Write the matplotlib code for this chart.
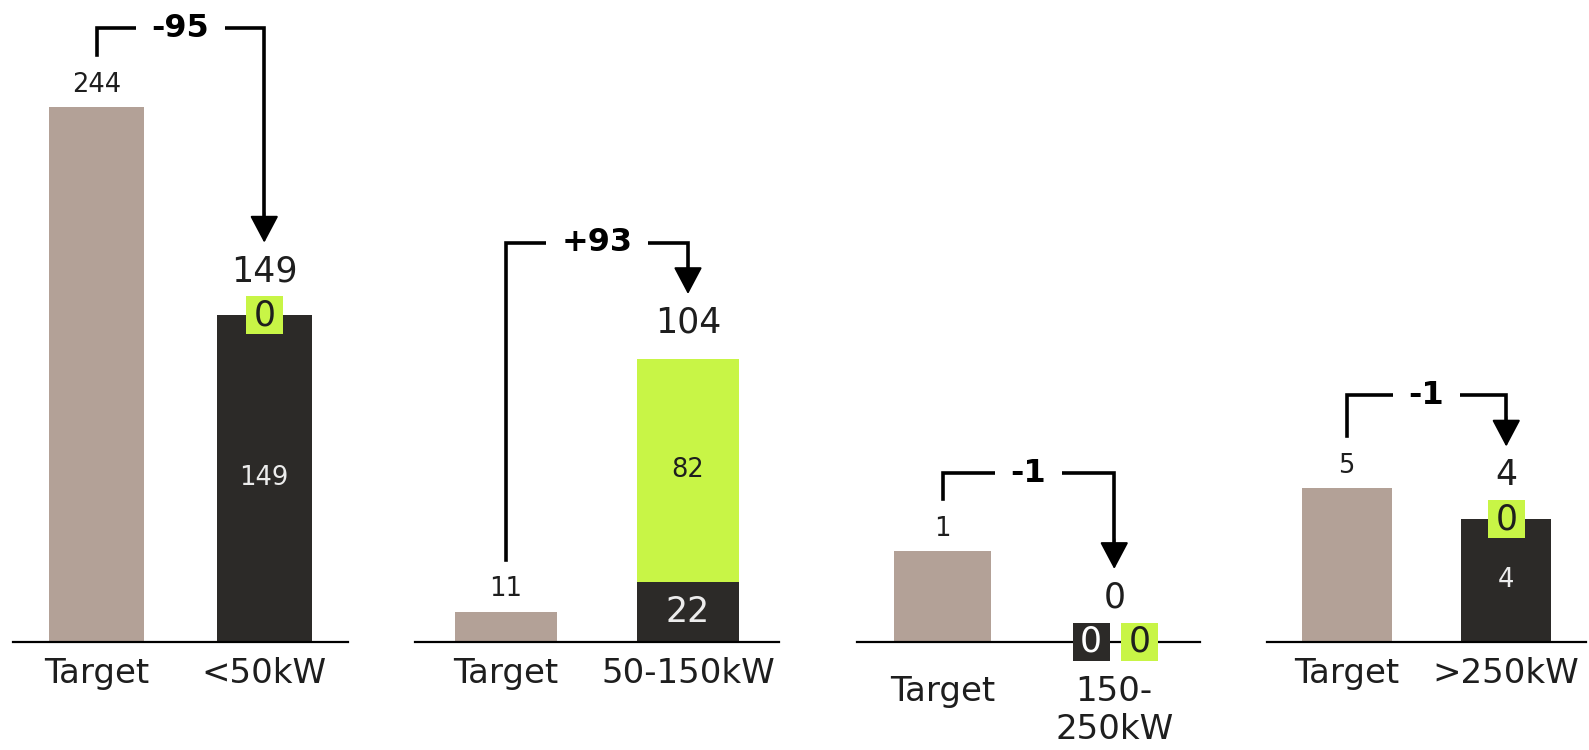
import numpy as np
import matplotlib.pyplot as plt
from matplotlib.patches import Rectangle
from matplotlib.transforms import ScaledTranslation

plt.rcParams['font.family'] = ['DejaVu Sans']

# data
targets = [244, 11, 1, 5]
actual_dark = [149, 22, 0, 4]
actual_green = [0, 82, 0, 0]
totals = [149, 104, 0, 4]
deltas = ['-95', '+93', '-1', '-1']
categories = ['<50kW', '50-150kW', '150-\n250kW', '>250kW']

# layout (pixels on a 1589x750 canvas)
panel_left = [13, 415, 857, 1267]
panel_width = [335, 364, 343, 319]
panel_ymax = [292.9, 235.8, 7.10, 20.96]
bracket_rise = [79, 116, 78, 93]   # px above the taller bar
label_pad = [11, 11, 24, 11]
dark_fs = [18.5, 25, 25, 18.5]
green_fs = [25, 18.5, 25, 25]

TAUPE = '#b3a197'
DARK = '#2c2a28'
GREEN = '#c8f546'
INK = '#1e1e1e'
W, H = 1589, 750
BASE = 641.5
BW = 0.565

fig = plt.figure(figsize=(W / 100, H / 100), dpi=100)


def zero_box(ax, x, y, color, txtcolor):
    tr = fig.dpi_scale_trans + ScaledTranslation(x, y, ax.transData)
    ax.add_patch(Rectangle((-0.185, -0.19), 0.37, 0.38, transform=tr,
                           facecolor=color, edgecolor='none', zorder=4, clip_on=False))
    ax.text(x, y, '0', ha='center', va='center', fontsize=25, color=txtcolor, zorder=5)


for i in range(4):
    ax = fig.add_axes([panel_left[i] / W, 1 - BASE / H, panel_width[i] / W, BASE / H])
    ax.set_xlim(-0.5, 1.5)
    ax.set_ylim(0, panel_ymax[i])
    k = panel_ymax[i] / BASE  # data units per pixel

    ax.bar(0, targets[i], BW, color=TAUPE, zorder=2)
    ax.bar(1, actual_dark[i], BW, color=DARK, zorder=2)
    ax.bar(1, actual_green[i], BW, bottom=actual_dark[i], color=GREEN, zorder=2)

    ax.text(0, targets[i] + 22.5 * k, str(targets[i]), ha='center', va='center',
            fontsize=18.5, color=INK)

    # segment labels / zero boxes
    if actual_dark[i] == 0 and actual_green[i] == 0:
        zero_box(ax, 1 - 23 / 170.7, 0, DARK, 'white')
        zero_box(ax, 1 + 25 / 170.7, 0, GREEN, INK)
        off = 44
    else:
        ax.text(1, actual_dark[i] / 2, str(actual_dark[i]), ha='center', va='center',
                fontsize=dark_fs[i], color='#ececec', zorder=5)
        if actual_green[i] == 0:
            zero_box(ax, 1, actual_dark[i], GREEN, INK)
            off = 44
        else:
            ax.text(1, actual_dark[i] + actual_green[i] / 2, str(actual_green[i]),
                    ha='center', va='center', fontsize=green_fs[i], color=INK, zorder=5)
            off = 36

    ax.text(1, totals[i] + off * k, str(totals[i]), ha='center', va='center',
            fontsize=25, color=INK)

    # bracket with arrow
    tip = totals[i] + (off + 28.5) * k
    start = targets[i] + 52 * k
    level = max(targets[i], totals[i]) + bracket_rise[i] * k
    ax.plot([0, 0, 1, 1], [start, level, level, tip + 20 * k], color='black', lw=2.6,
            solid_joinstyle='miter', clip_on=False, zorder=3)
    ax.annotate('', xy=(1, tip), xytext=(1, tip + 30 * k),
                arrowprops=dict(arrowstyle='-|>,head_length=0.85,head_width=0.45',
                                mutation_scale=20, fc='black', ec='black', lw=1.5,
                                shrinkA=0, shrinkB=0), annotation_clip=False)
    ax.text(0.5, level, deltas[i], ha='center', va='center', fontsize=23,
            fontweight='bold', color='black', zorder=6,
            bbox=dict(fc='white', ec='none', boxstyle='square,pad=0.5'))

    ax.set_xticks([0, 1], ['Target', categories[i]], fontsize=24.5, color=INK)
    ax.tick_params(axis='x', length=0, pad=label_pad[i])
    ax.set_yticks([])
    for s in ['top', 'left', 'right']:
        ax.spines[s].set_visible(False)
    ax.spines['bottom'].set_linewidth(1.6)
    ax.spines['bottom'].set_zorder(3)

fig.savefig('out.png', dpi=100)
